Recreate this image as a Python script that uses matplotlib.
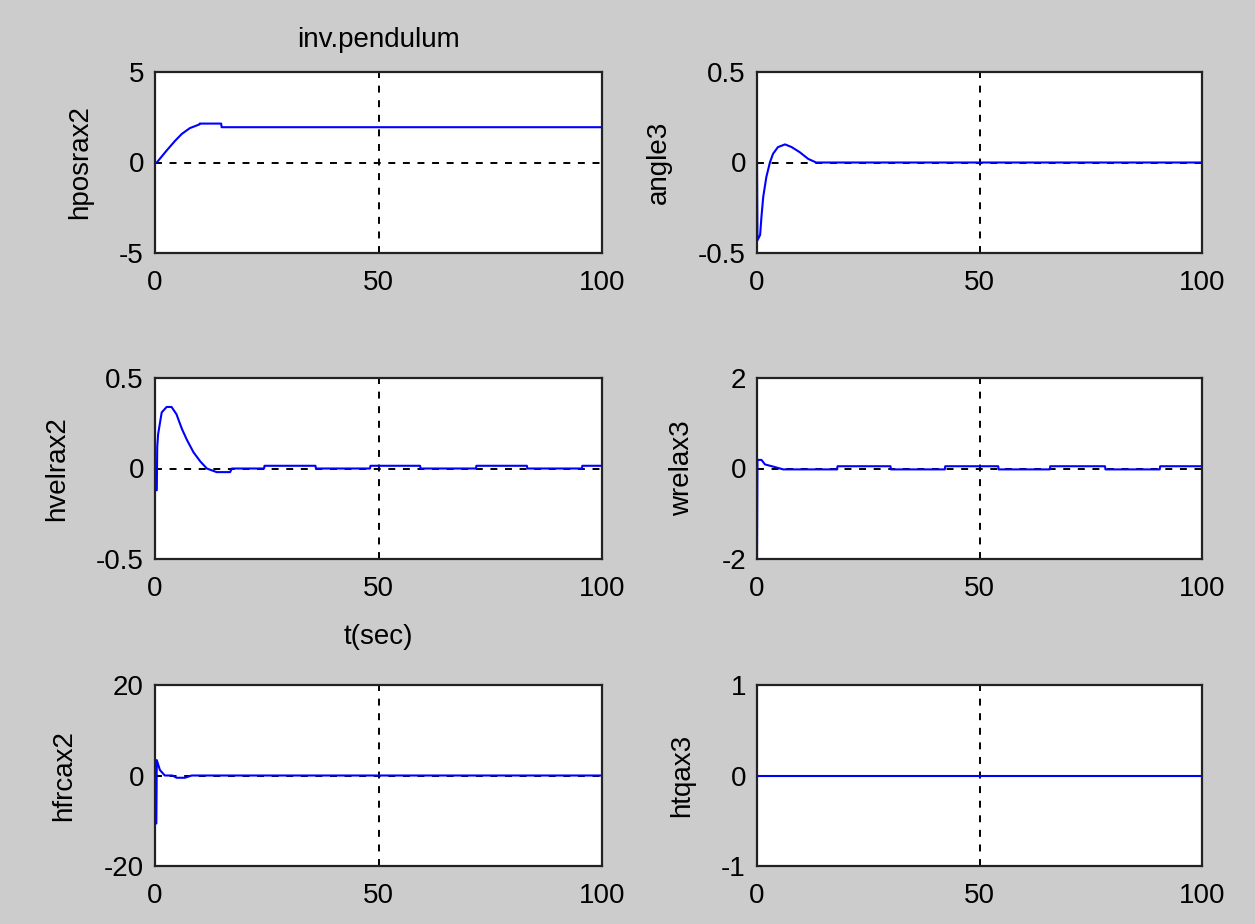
import matplotlib
matplotlib.use("Agg")
import matplotlib.pyplot as plt

# ---- data ----
title = "inv.pendulum"
xlabel_mid = "t(sec)"
ylabels = ["hposrax2", "angle3", "hvelrax2", "wrelax3", "hfrcax2", "htqax3"]
xticks = [0, 50, 100]
yticks_list = [[-5, 0, 5], [-0.5, 0, 0.5], [-0.5, 0, 0.5], [-2, 0, 2], [-20, 0, 20], [-1, 0, 1]]
ytick_labels = [["-5", "0", "5"], ["-0.5", "0", "0.5"], ["-0.5", "0", "0.5"],
                ["-2", "0", "2"], ["-20", "0", "20"], ["-1", "0", "1"]]

t_hpos = [0, 0.4, 2.6, 4.5, 6.0, 7.8, 9.9, 10.0, 14.8, 14.9, 100]
v_hpos = [0, 0, 0.66, 1.2, 1.58, 1.9, 2.1, 2.15, 2.15, 1.95, 1.95]

t_angle = [0, 0.1, 0.7, 1.0, 1.4, 2.1, 2.9, 3.6, 4.7, 6.3, 7.8, 9.6, 11.5, 13.3, 100]
v_angle = [0, -0.43, -0.40, -0.30, -0.19, -0.08, 0.0, 0.048, 0.085, 0.10, 0.085, 0.057, 0.02, 0.0, 0.0]

t_hvel = [0, 0.4, 0.5, 0.7, 1.5, 2.6, 3.7, 4.8, 6.0, 7.1, 8.6, 10.1, 11.6, 13.8, 16.8, 17.2,
          24.4, 24.5, 35.9, 36.0, 48.1, 48.2, 59.3, 59.4, 71.8, 71.9, 83.2, 83.3, 95.5, 95.6, 100]
v_hvel = [-0.12, -0.12, 0.12, 0.19, 0.31, 0.34, 0.34, 0.30, 0.22, 0.16, 0.09, 0.04, 0.0, -0.02, -0.02, 0.0,
          0.0, 0.015, 0.015, 0.0, 0.0, 0.015, 0.015, 0.0, 0.0, 0.015, 0.015, 0.0, 0.0, 0.015, 0.015]

t_wrel = [0, 0.1, 1.0, 1.8, 3.7, 5.9, 18.0, 18.1, 30.0, 30.1, 42.2, 42.3, 54.2, 54.3,
          65.8, 65.9, 78.2, 78.3, 90.5, 90.6, 100]
v_wrel = [-2.0, 0.19, 0.19, 0.09, 0.04, -0.02, -0.02, 0.05, 0.05, -0.02, -0.02, 0.05, 0.05, -0.02,
          -0.02, 0.05, 0.05, -0.02, -0.02, 0.05, 0.05]

t_hfrc = [0, 0.3, 0.4, 1.1, 2.2, 3.9, 4.8, 6.7, 8.2, 100]
v_hfrc = [-10.6, -10.6, 3.4, 1.2, 0.0, 0.0, -0.5, -0.5, 0.0, 0.0]

t_htq = [0, 100]
v_htq = [0, 0]

series = [(t_hpos, v_hpos), (t_angle, v_angle), (t_hvel, v_hvel),
          (t_wrel, v_wrel), (t_hfrc, v_hfrc), (t_htq, v_htq)]

# ---- style ----
plt.rcParams['font.family'] = ['Liberation Sans', 'DejaVu Sans']
plt.rcParams['lines.scale_dashes'] = False
W, H = 1255, 924
fig = plt.figure(figsize=(W / 100, H / 100), dpi=100, facecolor='#cccccc')

lefts = [155, 757]
widths = [447, 445]
tops = [72, 378, 685]
ah = 181
fs = 20

for i, (tt, vv) in enumerate(series):
    r, c = divmod(i, 2)
    x0 = lefts[c] / W
    y0 = 1 - (tops[r] + ah) / H
    ax = fig.add_axes([x0, y0, widths[c] / W, ah / H])
    ax.set_facecolor('white')
    yt = yticks_list[i]
    ax.set_xlim(0, 100)
    ax.set_ylim(yt[0], yt[-1])
    ax.plot(tt, vv, color='#0000ff', lw=1.5, zorder=3)
    ax.axvline(50, color='black', lw=1.4, ls=(0, (5, 5.5)), zorder=2)
    ax.axhline(0, color='black', lw=1.4, ls=(0, (5, 5.5)), zorder=2)
    ax.set_xticks(xticks)
    ax.set_xticklabels([str(x) for x in xticks])
    ax.set_yticks(yt)
    ax.set_yticklabels(ytick_labels[i])
    ax.tick_params(length=0, labelsize=fs, pad=8)
    ax.tick_params(axis='x', pad=12)
    for s in ax.spines.values():
        s.set_color('#222222')
        s.set_linewidth(1.6)
    ax.set_ylabel(ylabels[i], fontsize=fs, labelpad=19)
    if i == 0:
        ax.set_title(title, fontsize=fs, pad=18)
    if i == 2:
        ax.set_xlabel(xlabel_mid, fontsize=fs, labelpad=16)

fig.savefig("out.png", dpi=100, facecolor=fig.get_facecolor())
